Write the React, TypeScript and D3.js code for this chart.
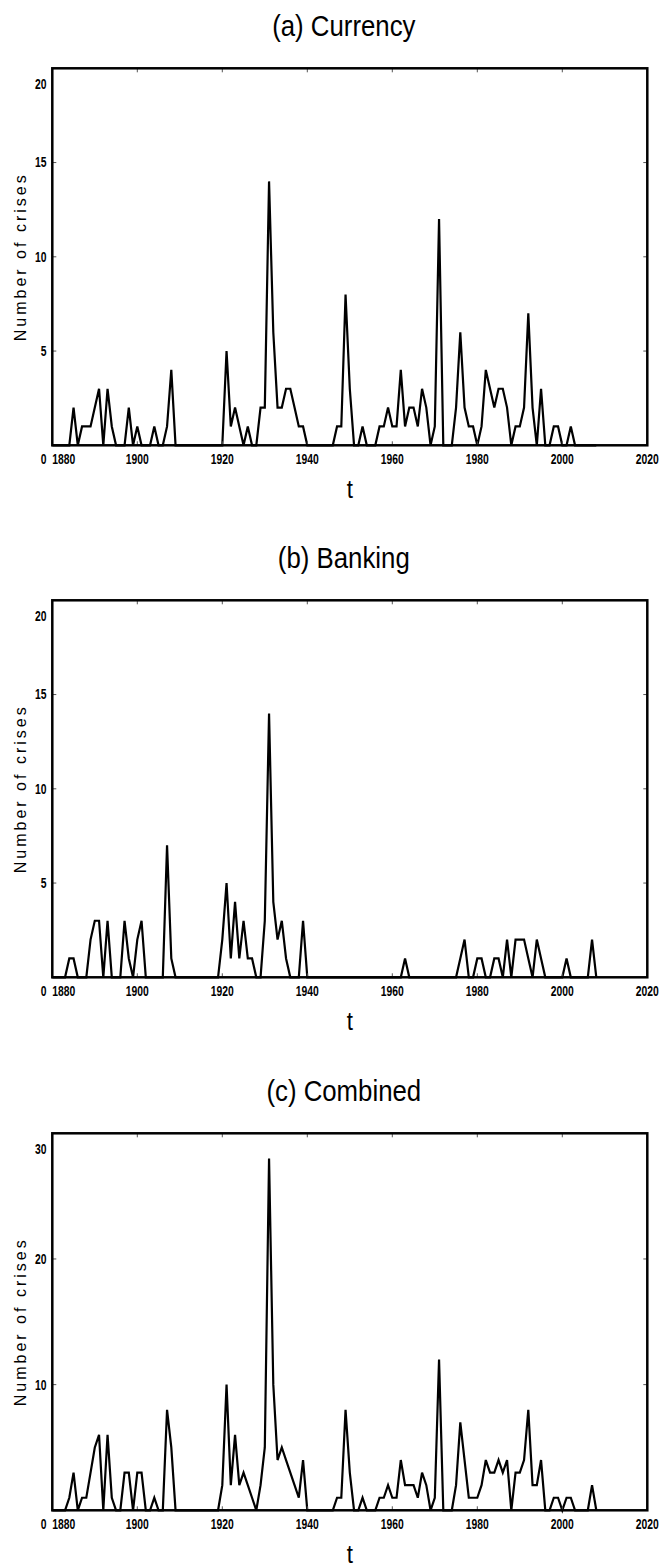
import React from "react";
import * as d3 from "d3";

const START_YEAR = 1880;
const xTicks = [1880, 1900, 1920, 1940, 1960, 1980, 2000, 2020];

// number of crises per year, 1880..2008
const currency = [
  0, 0, 0, 0, 0, 2, 0, 1, 1, 1,
  2, 3, 0, 3, 1, 0, 0, 0, 2, 0,
  1, 0, 0, 0, 1, 0, 0, 1, 4, 0,
  0, 0, 0, 0, 0, 0, 0, 0, 0, 0,
  0, 5, 1, 2, 1, 0, 1, 0, 0, 2,
  2, 14, 6, 2, 2, 3, 3, 2, 1, 1,
  0, 0, 0, 0, 0, 0, 0, 1, 1, 8,
  3, 0, 0, 1, 0, 0, 0, 1, 1, 2,
  1, 1, 4, 1, 2, 2, 1, 3, 2, 0,
  1, 12, 0, 0, 0, 2, 6, 2, 1, 1,
  0, 1, 4, 3, 2, 3, 3, 2, 0, 1,
  1, 2, 7, 2, 0, 3, 0, 0, 1, 1,
  0, 0, 1, 0, 0, 0, 0, 0, 0,
];

const banking = [
  0, 0, 0, 0, 1, 1, 0, 0, 0, 2,
  3, 3, 0, 3, 0, 0, 0, 3, 1, 0,
  2, 3, 0, 0, 0, 0, 0, 7, 1, 0,
  0, 0, 0, 0, 0, 0, 0, 0, 0, 0,
  2, 5, 1, 4, 1, 3, 1, 1, 0, 0,
  3, 14, 4, 2, 3, 1, 0, 0, 0, 3,
  0, 0, 0, 0, 0, 0, 0, 0, 0, 0,
  0, 0, 0, 0, 0, 0, 0, 0, 0, 0,
  0, 0, 0, 1, 0, 0, 0, 0, 0, 0,
  0, 0, 0, 0, 0, 0, 1, 2, 0, 0,
  1, 1, 0, 0, 1, 1, 0, 2, 0, 2,
  2, 2, 1, 0, 2, 1, 0, 0, 0, 0,
  0, 1, 0, 0, 0, 0, 0, 2, 0,
];

const combined = [
  0, 0, 0, 0, 1, 3, 0, 1, 1, 3,
  5, 6, 0, 6, 1, 0, 0, 3, 3, 0,
  3, 3, 0, 0, 1, 0, 0, 8, 5, 0,
  0, 0, 0, 0, 0, 0, 0, 0, 0, 0,
  2, 10, 2, 6, 2, 3, 2, 1, 0, 2,
  5, 28, 10, 4, 5, 4, 3, 2, 1, 4,
  0, 0, 0, 0, 0, 0, 0, 1, 1, 8,
  3, 0, 0, 1, 0, 0, 0, 1, 1, 2,
  1, 1, 4, 2, 2, 2, 1, 3, 2, 0,
  1, 12, 0, 0, 0, 2, 7, 4, 1, 1,
  1, 2, 4, 3, 3, 4, 3, 4, 0, 3,
  3, 4, 8, 2, 2, 4, 0, 0, 1, 1,
  0, 1, 1, 0, 0, 0, 0, 2, 0,
];

const titles = ["(a) Currency", "(b) Banking", "(c) Combined"];
const yTicksSingle = [0, 5, 10, 15, 20];
const yTicksCombined = [0, 10, 20, 30];

const W = 662;
const H = 1568;
const LEFT = 52.3;
const RIGHT = 647.3;
const PLOT_H = 377;
const TOPS = [68.3, 600.3, 1133.3];

const sans = "'Liberation Sans', Arial, sans-serif";

// narrow text, squeezed horizontally
function NarrowText({ x, y, sx, size, anchor = "middle", bold = false, children }) {
  return (
    <text
      transform={`translate(${x}, ${y}) scale(${sx}, 1)`}
      textAnchor={anchor}
      dy="0.35em"
      fontFamily={sans}
      fontWeight={bold ? "bold" : "normal"}
      fontSize={size}
      fill="#000"
    >
      {children}
    </text>
  );
}

function Panel({ top, title, values, yTicks }) {
  const x = d3.scaleLinear().domain([1880, 2020]).range([LEFT, RIGHT]);
  const yMax = yTicks[yTicks.length - 1];
  const y = d3.scaleLinear().domain([0, yMax]).range([top + PLOT_H, top]);
  const line = d3
    .line<number>()
    .x((d, i) => x(START_YEAR + i))
    .y((d) => y(d));
  const bottom = top + PLOT_H;
  const midX = (LEFT + RIGHT) / 2;

  return (
    <g>
      <NarrowText x={midX - 6} y={top - 43} sx={0.86} size={30}>
        {title}
      </NarrowText>

      <path d={line(values)} fill="none" stroke="#000" strokeWidth={2.2} strokeLinejoin="miter" />

      {/* inner ticks */}
      {xTicks.slice(1, -1).map((t) => (
        <g key={"xt" + t}>
          <line x1={x(t)} x2={x(t)} y1={top} y2={top + 4} stroke="#555" strokeWidth={1} />
          <line x1={x(t)} x2={x(t)} y1={bottom} y2={bottom - 4} stroke="#555" strokeWidth={1} />
        </g>
      ))}
      {yTicks.slice(1, -1).map((t) => (
        <g key={"yt" + t}>
          <line x1={LEFT} x2={LEFT + 4} y1={y(t)} y2={y(t)} stroke="#555" strokeWidth={1} />
          <line x1={RIGHT} x2={RIGHT - 4} y1={y(t)} y2={y(t)} stroke="#555" strokeWidth={1} />
        </g>
      ))}

      <rect
        x={LEFT}
        y={top}
        width={RIGHT - LEFT}
        height={PLOT_H}
        fill="none"
        stroke="#000"
        strokeWidth={2.5}
      />

      {xTicks.map((t, i) => (
        <NarrowText
          key={"xl" + t}
          x={x(t)}
          y={bottom + 14}
          sx={0.74}
          size={14}
          bold
          anchor={i === 0 ? "start" : "middle"}
        >
          {t}
        </NarrowText>
      ))}
      {yTicks.map((t, i) => {
        let ty = y(t);
        if (i === 0) ty += 14;
        if (i === yTicks.length - 1) ty += 16;
        return (
          <NarrowText key={"yl" + t} x={46.5} y={ty} sx={0.74} size={14} bold anchor="end">
            {t}
          </NarrowText>
        );
      })}

      <NarrowText x={midX} y={bottom + 44} sx={0.86} size={26}>
        t
      </NarrowText>
      <text
        transform={`translate(20, ${top + PLOT_H / 2}) rotate(-90)`}
        textAnchor="middle"
        dy="0.35em"
        fontFamily={sans}
        fontSize={16}
        letterSpacing={3}
        fill="#000"
      >
        Number of crises
      </text>
    </g>
  );
}

export default function App() {
  const series = [currency, banking, combined];
  return (
    <svg
      width={W}
      height={H}
      style={{ display: "block", position: "absolute", left: 0, top: 0, background: "#fff" }}
    >
      <rect width={W} height={H} fill="#fff" />
      {series.map((vals, i) => (
        <Panel
          key={titles[i]}
          top={TOPS[i]}
          title={titles[i]}
          values={vals}
          yTicks={i === 2 ? yTicksCombined : yTicksSingle}
        />
      ))}
    </svg>
  );
}
